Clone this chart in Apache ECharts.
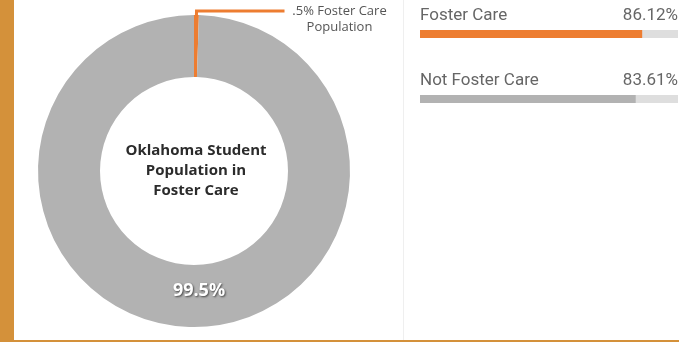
<!DOCTYPE html>
<html>
<head>
<meta charset="utf-8">
<script src="https://cdn.jsdelivr.net/npm/echarts@6/dist/echarts.min.js"></script>
<style>
  html, body { margin: 0; padding: 0; background: #fff; }
  #wrap { position: relative; width: 679px; height: 342px; overflow: hidden; }
  #chart { position: absolute; left: 0; top: 0; width: 679px; height: 342px; }
  .edge-left { position: absolute; left: 0; top: 0; width: 14px; height: 342px; background: #D4913A; }
  .edge-bottom { position: absolute; left: 0; bottom: 0; width: 679px; height: 2px; background: #D4913A; }
  .divider { position: absolute; left: 403px; top: 0; width: 1px; height: 340px; background: #efefef; }
</style>
</head>
<body>
<div id="wrap">
  <div id="chart"></div>
  <div class="divider"></div>
  <div class="edge-left"></div>
  <div class="edge-bottom"></div>
</div>
<script>
// Share of Oklahoma students in foster care
const pieNames = ['Foster Care', 'Not Foster Care'];
const pieValues = [0.5, 99.5];
const pieColors = ['#ED7D31', '#B2B2B2'];

// Rates by group, in percent
const groupNames = ['Foster Care', 'Not Foster Care'];
const groupValues = [86.12, 83.61];
const groupColors = ['#ED7D31', '#B2B2B2'];

const chart = echarts.init(document.getElementById('chart'));

const pieData = pieNames.map((name, i) => {
  const item = { name: name, value: pieValues[i], itemStyle: { color: pieColors[i] } };
  if (i === 0) {
    item.label = {
      show: true,
      position: 'outside',
      formatter: '{a|.5% Foster Care}\n{a|Population}',
      padding: [16, 0, 0, 0],
      distanceToLabelLine: 3,
      rich: {
        a: { width: 104, align: 'center', fontSize: 13, lineHeight: 16, color: '#555', fontFamily: '"Open Sans", sans-serif' }
      }
    };
    item.labelLine = { show: true, length: 4, length2: 88, lineStyle: { color: '#ED7D31', width: 3 } };
  } else {
    item.label = {
      show: true,
      position: 'inside',
      formatter: function (p) { return p.value + '%'; },
      offset: [7, -8],
      color: '#fff',
      fontSize: 18,
      fontWeight: 'bold',
      fontFamily: '"Open Sans", sans-serif',
      textShadowColor: 'rgba(60,60,60,0.9)',
      textShadowBlur: 2,
      textShadowOffsetX: 1,
      textShadowOffsetY: 1
    };
    item.labelLine = { show: false };
  }
  return item;
});

chart.setOption({
  animation: false,
  title: {
    text: 'Oklahoma Student\nPopulation in\nFoster Care',
    left: 196,
    top: 141,
    padding: 0,
    textAlign: 'center',
    textStyle: {
      fontSize: 15,
      fontWeight: 'bold',
      color: '#2b2b2b',
      lineHeight: 20,
      fontFamily: '"Open Sans", sans-serif'
    }
  },
  grid: { left: 420, top: 1.5, width: 258, height: 130 },
  xAxis: { type: 'value', min: 0, max: 100, show: false },
  yAxis: {
    type: 'category',
    data: groupNames,
    inverse: true,
    show: false
  },
  series: [
    {
      type: 'pie',
      center: [194, 171],
      radius: [94, 156],
      startAngle: 90,
      clockwise: true,
      avoidLabelOverlap: false,
      silent: true,
      itemStyle: { borderWidth: 0 },
      data: pieData
    },
    {
      type: 'bar',
      barWidth: 8,
      silent: true,
      showBackground: true,
      backgroundStyle: { color: '#DEDEDE' },
      data: groupValues.map((v, i) => ({ value: v, itemStyle: { color: groupColors[i] } })),
      label: {
        show: true,
        position: [0, -23],
        formatter: function (p) { return '{n|' + p.name + '}{v|' + p.value.toFixed(2) + '%}'; },
        rich: {
          n: { width: 180, align: 'left', fontSize: 17, color: '#666', fontFamily: 'Roboto, sans-serif' },
          v: { width: 78, align: 'right', fontSize: 17, color: '#666', fontFamily: 'Roboto, sans-serif' }
        }
      }
    }
  ]
});
</script>
</body>
</html>
